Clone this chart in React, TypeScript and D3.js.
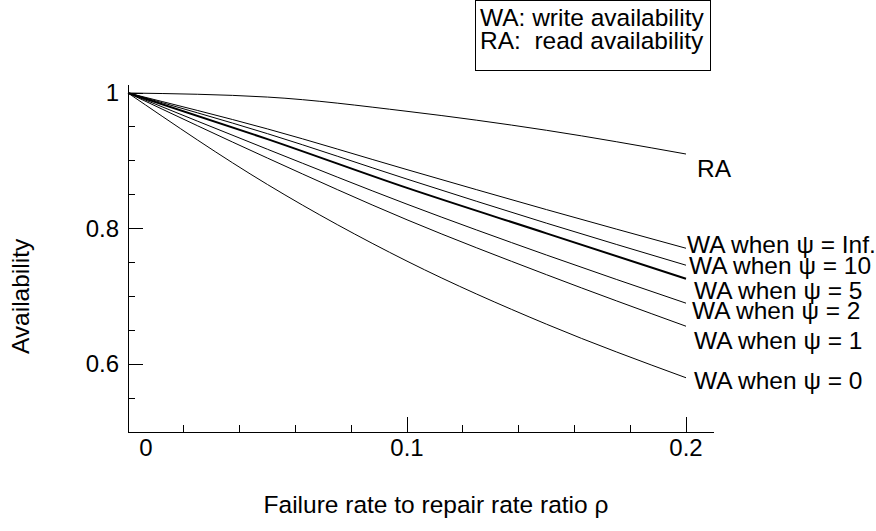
import React from "react";
import * as d3 from "d3";

// values
const rho = [0, 0.05, 0.1, 0.15, 0.2];
const raValues = [1, 0.994, 0.973, 0.945, 0.91];
const waInf = [1, 0.947, 0.887, 0.828, 0.771];
const wa10 = [1, 0.94, 0.873, 0.808, 0.746];
const wa5 = [1, 0.932, 0.86, 0.793, 0.726];
const wa2 = [1, 0.917, 0.836, 0.761, 0.69];
const wa1 = [1, 0.904, 0.813, 0.732, 0.656];
const wa0 = [1, 0.865, 0.752, 0.659, 0.58];

const waNames = ["Inf.", "10", "5", "2", "1", "0"];
const waSeries = [waInf, wa10, wa5, wa2, wa1, wa0];
// label placement relative to the curve end (layout only)
const waLabelDx = [1, 3, 8, 6, 8, 8];
const waLabelDy = [5, 9, 20, 16, 23, 11];

const xMajor = [0, 0.1, 0.2];
const xMinor = [0.02, 0.04, 0.06, 0.08, 0.12, 0.14, 0.16, 0.18];
const yMajor = [1, 0.8, 0.6];
const yMinor = [0.95, 0.9, 0.85, 0.75, 0.7, 0.65, 0.55];

const legendLines = ["WA: write availability", "RA:\u00a0 read availability"];

const W = 876;
const H = 531;
const FONT = "'Liberation Sans', Arial, sans-serif";

export default function App() {
  const x = d3.scaleLinear().domain([0, 0.2]).range([128, 686]);
  const y = d3.scaleLinear().domain([0.5, 1]).range([432, 93]);

  const line = d3
    .line<number>()
    .x((_, i) => x(rho[i]))
    .y((d) => y(d))
    .curve(d3.curveMonotoneX);

  const x0 = x(0);
  const y0 = y(0.5);

  return (
    <svg
      width={W}
      height={H}
      style={{ position: "absolute", left: 0, top: 0, background: "#fff" }}
      fontFamily={FONT}
      fontSize={24.5}
    >
      {/* axes */}
      <g stroke="#000" strokeWidth={1} shapeRendering="crispEdges">
        <line x1={x0} x2={x(0.21)} y1={y0} y2={y0} />
        <line x1={x0} x2={x0} y1={y0} y2={y(1.012)} />
        {xMajor.slice(1).map((t) => (
          <line key={"xM" + t} x1={x(t)} x2={x(t)} y1={y0} y2={y0 - 15} />
        ))}
        {xMinor.map((t) => (
          <line key={"xm" + t} x1={x(t)} x2={x(t)} y1={y0} y2={y0 - 7} />
        ))}
        {yMajor.map((t) => (
          <line key={"yM" + t} x1={x0} x2={x0 + 15} y1={y(t)} y2={y(t)} />
        ))}
        {yMinor.map((t) => (
          <line key={"ym" + t} x1={x0} x2={x0 + 7} y1={y(t)} y2={y(t)} />
        ))}
      </g>

      {/* tick labels */}
      <g fontSize={24}>
        {xMajor.map((t, i) => (
          <text key={"xl" + t} x={x(t) + (i === 0 ? 18 : 0)} y={456} textAnchor="middle">
            {t === 0 ? "0" : t.toString()}
          </text>
        ))}
        {yMajor.map((t) => (
          <text key={"yl" + t} x={119} y={y(t) + 8} textAnchor="end">
            {t === 1 ? "1" : t.toString()}
          </text>
        ))}
      </g>

      {/* axis titles */}
      <text x={436} y={513} textAnchor="middle">
        Failure rate to repair rate ratio ρ
      </text>
      <text transform={`translate(29,${y(0.7)}) rotate(-90)`} textAnchor="middle">
        Availability
      </text>

      {/* curves */}
      <path d={line(raValues) || ""} fill="none" stroke="#000" strokeWidth={1} />
      {waSeries.map((s, i) => (
        <path
          key={"wa" + i}
          d={line(s) || ""}
          fill="none"
          stroke="#000"
          strokeWidth={waNames[i] === "5" ? 2 : 1}
        />
      ))}

      {/* curve labels */}
      <text x={x(0.2) + 11} y={y(raValues[4]) + 23}>
        RA
      </text>
      {waSeries.map((s, i) => (
        <text key={"wl" + i} x={x(0.2) + waLabelDx[i]} y={y(s[4]) + waLabelDy[i]}>
          {"WA when ψ = " + waNames[i]}
        </text>
      ))}

      {/* legend box */}
      <rect x={475.5} y={0.5} width={235} height={70} fill="#fff" stroke="#000" />
      {legendLines.map((t, i) => (
        <text key={"lg" + i} x={480} y={26 + i * 23}>
          {t}
        </text>
      ))}
    </svg>
  );
}
